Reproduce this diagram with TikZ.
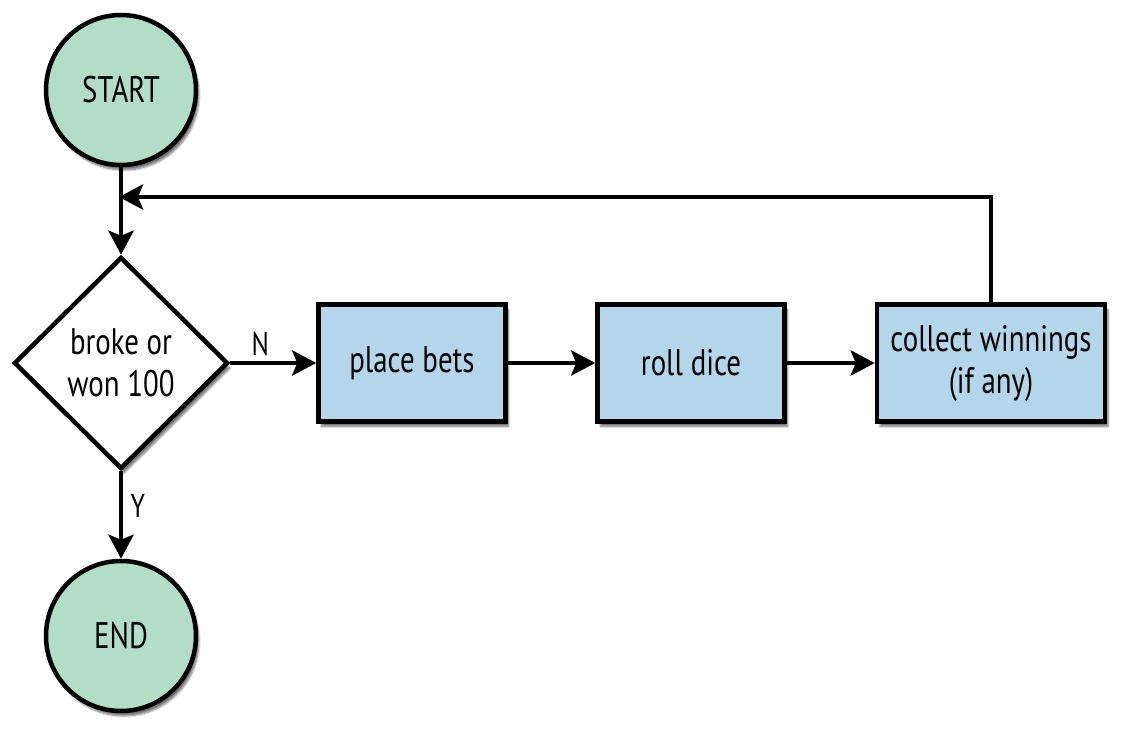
\documentclass[tikz,border=0pt]{standalone}
\usepackage{fontspec}
\setmainfont{PT Sans}[FakeStretch=0.78]
\usetikzlibrary{shapes.geometric,arrows.meta,shadows.blur}
\definecolor{termfill}{RGB}{178,222,200}
\definecolor{boxfill}{RGB}{180,214,234}
\begin{document}
\begin{tikzpicture}[x=1pt,y=-1pt,
  every node/.style={font=\fontsize{37}{42}\selectfont},
  base/.style={draw=black,line width=4.5pt,blur shadow={shadow xshift=3pt,shadow yshift=-5pt,shadow blur steps=6,shadow opacity=55}},
  term/.style={base,circle,fill=termfill,minimum size=150pt,inner sep=0pt},
  decide/.style={base,diamond,fill=white,minimum width=214pt,minimum height=212pt,inner sep=0pt,align=center},
  proc/.style={base,rectangle,fill=boxfill,minimum height=117pt,align=center,inner sep=0pt},
  arr/.style={line width=4.5pt,-{Stealth[length=24pt,width=25pt,inset=5pt]}},
  lbl/.style={font=\fontsize{33}{38}\selectfont}]
\useasboundingbox (0,0) rectangle (1136,738);
\node[term] (start) at (121,90) {START};
\node[decide] (dec) at (121,363) {broke or\\won 100};
\node[term] (end) at (121,636) {END};
\node[proc,minimum width=187pt] (bets) at (412,363) {place bets};
\node[proc,minimum width=187pt] (roll) at (691,363) {roll dice};
\node[proc,minimum width=228pt] (coll) at (991,363) {collect winnings\\(if any)};
\coordinate (j) at (121,197);
\draw[arr] (start) -- (dec);
\draw[arr,shorten >=-2pt] (coll.north) |- (j);
\draw[arr] (dec.east) -- node[lbl,above,pos=0.35,yshift=2pt] {N} (bets.west);
\draw[arr] (bets) -- (roll);
\draw[arr] (roll) -- (coll);
\draw[arr] (dec.south) -- node[lbl,right,pos=0.4,xshift=4pt] {Y} (end.north);
\end{tikzpicture}
\end{document}
